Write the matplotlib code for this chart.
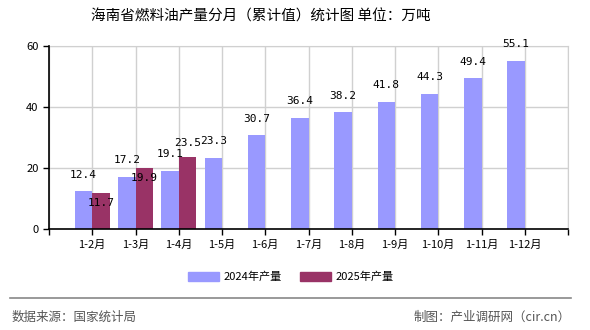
import matplotlib
matplotlib.use('Agg')
import matplotlib.pyplot as plt
import numpy as np
from matplotlib.patches import Patch
from matplotlib.lines import Line2D

plt.rcParams['font.family'] = ['Noto Sans CJK SC', 'DejaVu Sans']

# data
months = ['1-2月', '1-3月', '1-4月', '1-5月', '1-6月', '1-7月',
          '1-8月', '1-9月', '1-10月', '1-11月', '1-12月']
prod_2024 = [12.4, 17.2, 19.1, 23.3, 30.7, 36.4, 38.2, 41.8, 44.3, 49.4, 55.1]
prod_2025 = [11.7, 19.9, 23.5]
yticks = [0, 20, 40, 60]

c24 = '#9999FF'
c25 = '#993366'

W, H = 590, 330
fig = plt.figure(figsize=(W / 100, H / 100), dpi=100)
# axes box in pixels: left 49, right 568, top 46, bottom 229
ax = fig.add_axes([49 / W, 1 - 229 / H, (568 - 49) / W, (229 - 46) / H])

x = np.arange(len(months))
w = 0.4
ax.bar(x - w / 2, prod_2024, width=w, color=c24, zorder=3)
x25 = x[:len(prod_2025)]
ax.bar(x25 + w / 2, prod_2025, width=w, color=c25, zorder=3)

lab_font = dict(fontsize=8, family=['DejaVu Sans Mono'], ha='center', va='center', zorder=5)
for xi, v in zip(x, prod_2024):
    ax.annotate(f'{v}', (xi - w / 2, v), xytext=(0, 12), textcoords='offset points',
                **lab_font)
dy25 = [-7, -7, 10]  # label offsets (pt) for 2025
for xi, v, d in zip(x25, prod_2025, dy25):
    ax.annotate(f'{v}', (xi + w / 2, v), xytext=(0, d), textcoords='offset points',
                **lab_font)

ax.set_xlim(-1, 11)
ax.set_ylim(0, 60)
ax.set_yticks(yticks)
ax.set_xticks(np.arange(-1, 12))
ax.set_xticklabels([''] + months + [''])
ax.tick_params(axis='both', labelsize=8, length=4, width=1, color='black', direction='out')
ax.grid(True, color='#d0d0d0', linewidth=1, zorder=0)
for s in ['top', 'right']:
    ax.spines[s].set_color('#d0d0d0')
for s in ['left', 'bottom']:
    ax.spines[s].set_color('black')
    ax.spines[s].set_linewidth(1.2)
    ax.spines[s].set_zorder(4)

fig.text(261 / W, 1 - 17 / H, '海南省燃料油产量分月（累计值）统计图 单位：万吨',
         ha='center', va='center', fontsize=10.5)

handles = [Patch(color=c24, label='2024年产量'), Patch(color=c25, label='2025年产量')]
fig.legend(handles=handles, loc='center', bbox_to_anchor=(291 / W, 1 - 277 / H),
           ncol=2, frameon=False, fontsize=8, handlelength=2.8, handleheight=0.9,
           columnspacing=1.6, handletextpad=0.4)

fig.add_artist(Line2D([10 / W, 571 / W], [1 - 298 / H, 1 - 298 / H],
                      color='#888888', linewidth=1.2, transform=fig.transFigure))
fig.text(12 / W, 1 - 317 / H, '数据来源：国家统计局', ha='left', va='center',
         fontsize=9, color='#555555')
fig.text(571 / W, 1 - 317 / H, '制图：产业调研网（cir.cn）', ha='right', va='center',
         fontsize=9, color='#555555')

fig.savefig('out.png', dpi=100)
